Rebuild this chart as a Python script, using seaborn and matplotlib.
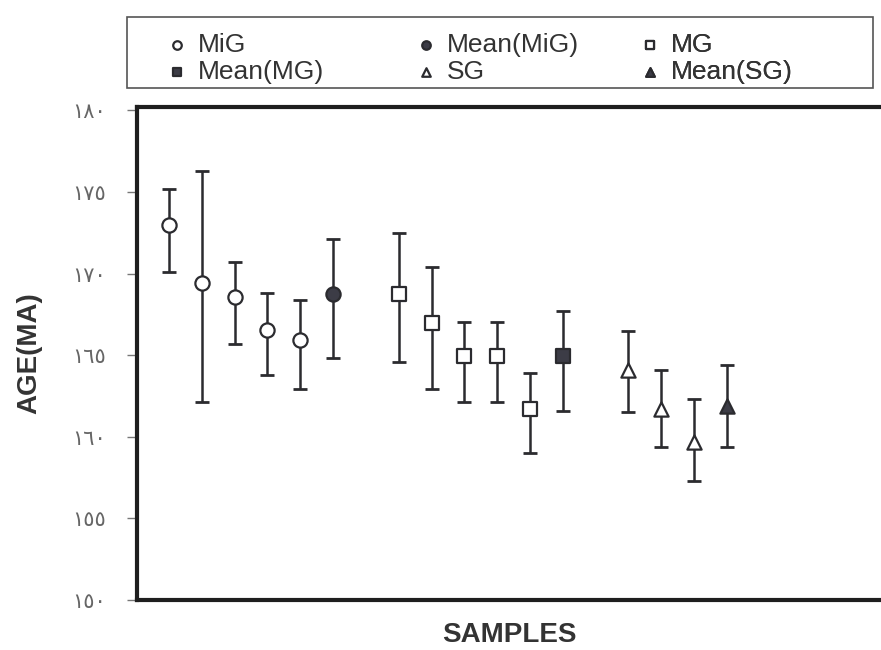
import matplotlib
matplotlib.use("Agg")
import matplotlib.pyplot as plt
from matplotlib.patches import Rectangle
import seaborn as sns
import pandas as pd

# sample data (ages in Ma)
positions = [1, 2, 3, 4, 5, 6, 8, 9, 10, 11, 12, 13, 15, 16, 17, 18]
groups = ["MiG"] * 5 + ["Mean(MiG)"] + ["MG"] * 5 + ["Mean(MG)"] + ["SG"] * 3 + ["Mean(SG)"]
age = [172.96, 169.39, 168.57, 166.53, 165.92, 168.73,
       168.73, 166.98, 164.96, 164.96, 161.69, 164.96,
       164.08, 161.73, 159.69, 161.90]
upper = [175.2, 176.3, 170.7, 168.8, 168.4, 172.1,
         172.5, 170.4, 167.0, 167.0, 163.9, 167.7,
         166.5, 164.1, 162.3, 164.4]
lower = [170.1, 162.1, 165.7, 163.8, 162.9, 164.8,
         164.6, 162.9, 162.1, 162.1, 159.0, 161.6,
         161.5, 159.4, 157.3, 159.4]

yticks = [150, 155, 160, 165, 170, 175, 180]
ytick_labels = ["١٥٠", "١٥٥", "١٦٠", "١٦٥", "١٧٠", "١٧٥", "١٨٠"]

df = pd.DataFrame({"pos": positions, "group": groups, "age": age,
                   "upper": upper, "lower": lower})

sns.set_style("white")
plt.rcParams['font.family'] = ['Liberation Sans', 'DejaVu Sans']

fig = plt.figure(figsize=(8.81, 6.5), dpi=100)
ax = fig.add_axes([137 / 881, 50 / 650, 1 - 137 / 881, 493 / 650])

ink = "#2b2b2f"

# error bars
ax.errorbar(df["pos"], df["age"],
            yerr=[df["age"] - df["lower"], df["upper"] - df["age"]],
            fmt="none", ecolor=ink, elinewidth=1.8, capsize=5, capthick=2, zorder=2)

# marker styles for each group
styles = {
    "MiG": ("o", "white"),
    "Mean(MiG)": ("o", "#3c3c46"),
    "MG": ("s", "white"),
    "Mean(MG)": ("s", "#3c3c46"),
    "SG": ("^", "white"),
    "Mean(SG)": ("^", "#3c3c46"),
}
for g, (m, fc) in styles.items():
    sub = df[df["group"] == g]
    sns.scatterplot(data=sub, x="pos", y="age", marker=m, s=105,
                    facecolor=fc, edgecolor=ink, linewidth=1.6,
                    ax=ax, label=g, zorder=3)

ax.set_xlim(0.024, 22.7)
ax.set_ylim(150, 180.2)
ax.set_xticks([])
ax.set_yticks(yticks)
ax.set_yticklabels(ytick_labels, family="DejaVu Sans", fontsize=15, color="#666666")
ax.tick_params(axis="y", left=True, length=7, width=1, color="#777777", pad=15)

for side in ["left", "bottom", "top"]:
    ax.spines[side].set_linewidth(3)
    ax.spines[side].set_color("#1e1e1e")
ax.spines["right"].set_visible(False)

ax.set_ylabel("AGE(MA)", fontsize=20, fontweight="bold", color="#333333", labelpad=22)
ax.set_xlabel("SAMPLES", fontsize=20, fontweight="bold", color="#333333", labelpad=16)

# legend: three columns above the plot, one legend per column
handles, labels = ax.get_legend_handles_labels()
hmap = dict(zip(labels, handles))
ax.get_legend().remove()
columns = [(["MiG", "Mean(MG)"], 164), (["Mean(MiG)", "SG"], 413), (["MG", "Mean(SG)"], 637)]
for items, xpix in columns:
    leg = ax.legend([hmap[k] for k in items], items, frameon=False,
                    loc="upper left", bbox_to_anchor=(xpix / 881, 1 - 33 / 650),
                    bbox_transform=fig.transFigure, fontsize=19, labelspacing=0.12,
                    handletextpad=0.3, handlelength=1.0, markerscale=0.6,
                    borderpad=0, borderaxespad=0)
    for t in leg.get_texts():
        t.set_color("#333333")
    ax.add_artist(leg)

fig.patches.append(Rectangle((127 / 881, 1 - 88 / 650), (873 - 127) / 881, 71 / 650,
                             transform=fig.transFigure, fill=False,
                             edgecolor="#555555", linewidth=1.2))

fig.savefig("out.png", dpi=100)
